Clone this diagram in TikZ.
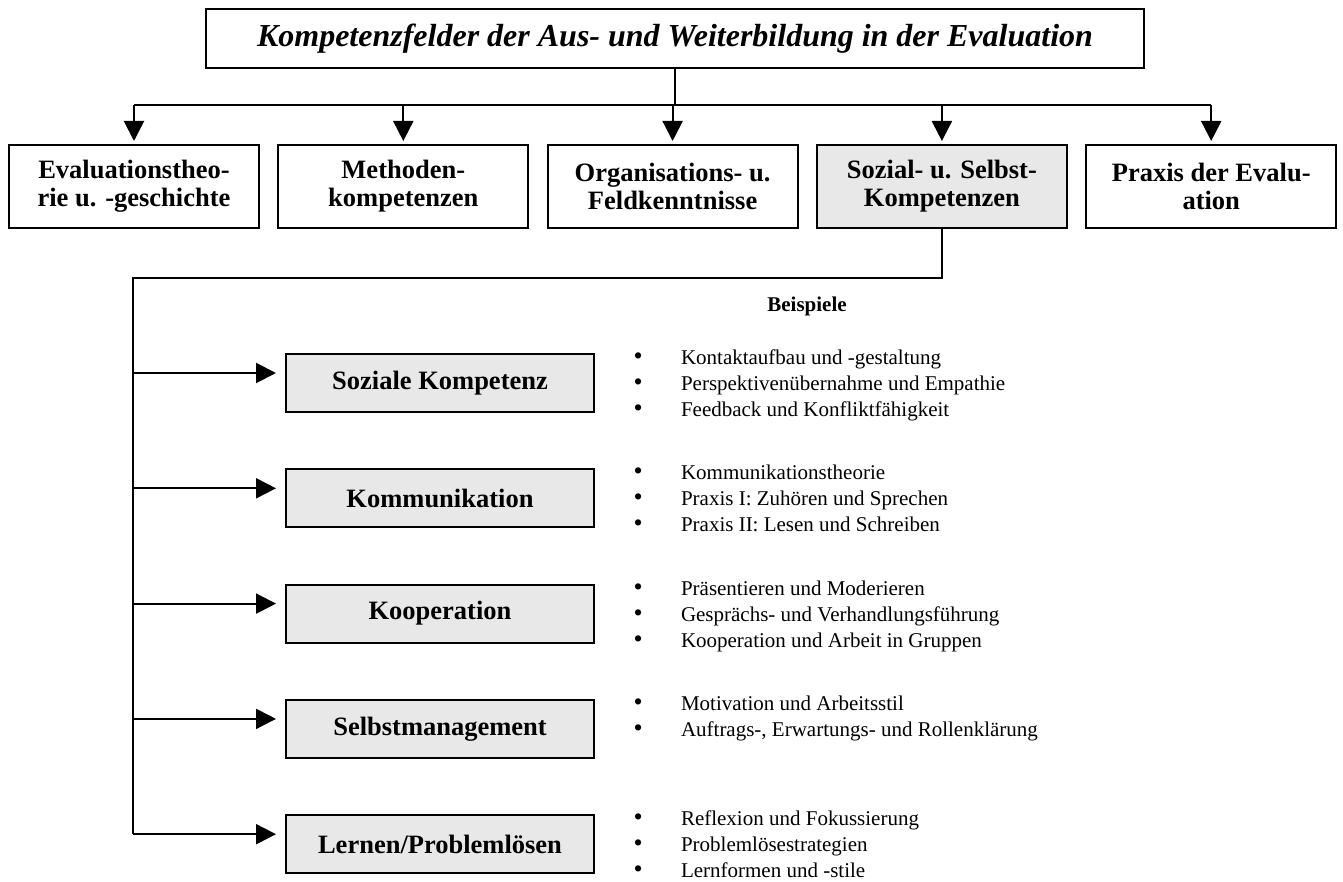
\documentclass[tikz,border=0pt]{standalone}
\usepackage{fontspec}
\setmainfont{Liberation Serif}
\usetikzlibrary{positioning,arrows.meta}
\definecolor{boxgray}{gray}{0.91}
\newcommand{\bul}{\makebox[23.75pt][l]{\fontsize{13}{13}\selectfont\textbullet}}

\begin{document}
\begin{tikzpicture}[x=0.5pt,y=-0.5pt,line width=1pt,node distance =57.65pt and 134.65pt,on grid,
field/.style ={draw,minimum width =125pt,minimum height =41.5pt,align=center,
font=\fontsize{13.25}{14}\selectfont\bfseries},
sub/.style ={draw,fill=boxgray,minimum width =154pt,minimum height =29pt,
font=\fontsize{13.25}{14}\selectfont\bfseries},
list/.style ={anchor=north west,align=left,inner sep=0pt,font=\fontsize{10.5}{13}\selectfont},
link/.style ={-{Triangle[length=10pt,width=10pt]},shorten >=1.5pt},
branch/.style ={link,shorten >=4.5pt}]
\useasboundingbox (0,0) rectangle (1343,882);

\node[draw,minimum width =469pt,minimum height =29.5pt,
font=\fontsize{16}{18}\selectfont\bfseries\itshape] (Title) at (675,38.5)
{Kompetenzfelder der Aus- und Weiterbildung in der Evaluation};

\node[field] (Theorie) at (134,186.5) {Evaluationstheo-\\rie u. -geschichte};
\node[field] (Methoden) [right=of Theorie] {Methoden-\\kompetenzen};
\node[field] (Organisation) [right=of Methoden] {Organisations- u.\\Feldkenntnisse};
\node[field,fill=boxgray] (Sozial) [right=of Organisation] {Sozial- u. Selbst-\\Kompetenzen};
\node[field] (Praxis) [right=of Sozial] {Praxis der Evalu-\\ation};

\coordinate (Rail) at (675,105);
\draw (Title.south) -- (Rail);
\draw (Theorie.north |- Rail) -- (Praxis.north |- Rail);
\draw[link] (Theorie.north |- Rail) -- (Theorie);
\draw[link] (Methoden.north |- Rail) -- (Methoden);
\draw[link] (Organisation.north |- Rail) -- (Organisation);
\draw[link] (Sozial.north |- Rail) -- (Sozial);
\draw[link] (Praxis.north |- Rail) -- (Praxis);

\node[sub] (Soziale) at (440,383) {Soziale Kompetenz};
\node[sub] (Kommunikation) [below=of Soziale] {Kommunikation};
\node[sub] (Kooperation) [below=of Kommunikation] {Kooperation};
\node[sub] (Selbst) [below=of Kooperation] {Selbstmanagement};
\node[sub] (Lernen) [below=of Selbst] {Lernen/Problemlösen};

\coordinate (Knee) at (133,278);
\draw (Sozial.south) |- (Knee) -- ([yshift=5pt]Lernen.west -| Knee);
\draw[branch] ([yshift=5pt]Soziale.west -| Knee) -- ([yshift=5pt]Soziale.west);
\draw[branch] ([yshift=5pt]Kommunikation.west -| Knee) -- ([yshift=5pt]Kommunikation.west);
\draw[branch] ([yshift=5pt]Kooperation.west -| Knee) -- ([yshift=5pt]Kooperation.west);
\draw[branch] ([yshift=5pt]Selbst.west -| Knee) -- ([yshift=5pt]Selbst.west);
\draw[branch] ([yshift=5pt]Lernen.west -| Knee) -- ([yshift=5pt]Lernen.west);

% Beispiele zu den Teilkompetenzen
\node[font=\fontsize{10.5}{13}\selectfont\bfseries] (Beispiele) at (807,306) {Beispiele};
\coordinate (Liste) at (632.5,0);
\node[list,yshift=2pt] (SozialeBsp) at (Soziale.north -| Liste)
{\bul Kontaktaufbau und -gestaltung\\\bul Perspektivenübernahme und Empathie\\\bul Feedback und Konfliktfähigkeit};
\node[list,yshift=2pt] (KommunikationBsp) at (Kommunikation.north -| Liste)
{\bul Kommunikationstheorie\\\bul Praxis I: Zuhören und Sprechen\\\bul Praxis II: Lesen und Schreiben};
\node[list,yshift=2pt] (KooperationBsp) at (Kooperation.north -| Liste)
{\bul Präsentieren und Moderieren\\\bul Gesprächs- und Verhandlungsführung\\\bul Kooperation und Arbeit in Gruppen};
\node[list,yshift=2pt] (SelbstBsp) at (Selbst.north -| Liste)
{\bul Motivation und Arbeitsstil\\\bul Auftrags-, Erwartungs- und Rollenklärung};
\node[list,yshift=2pt] (LernenBsp) at (Lernen.north -| Liste)
{\bul Reflexion und Fokussierung\\\bul Problemlösestrategien\\\bul Lernformen und -stile};
\end{tikzpicture}
\end{document}
